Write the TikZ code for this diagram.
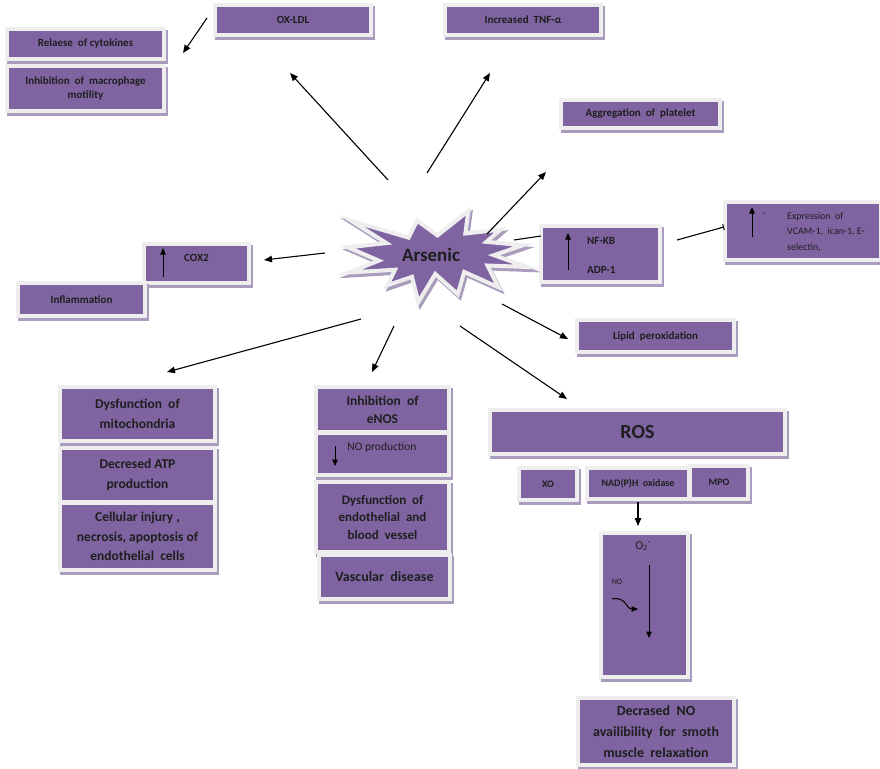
\documentclass[tikz,border=0pt]{standalone}
\usepackage{fontspec}
\setmainfont{Carlito}
\usetikzlibrary{arrows.meta,backgrounds,calc}
\definecolor{boxp}{HTML}{8064A2}
\definecolor{framec}{HTML}{EEEEEE}
\definecolor{shadc}{HTML}{A99CBD}
\definecolor{txtc}{HTML}{1E1E1E}
\newcommand\starpts{(1080,580) -- (1452,0) -- (1416,533) -- (1838,446) -- (1670,732) -- (2110,814) -- (1761,1048) -- (2160,1329) -- (1684,1294) -- (1815,1810) -- (1402,1446) -- (1325,1974) -- (1053,1494) -- (849,2160) -- (772,1563) -- (476,1762) -- (567,1394) -- (14,1459) -- (372,1178) -- (0,862) -- (463,762) -- (37,230) -- (731,632) -- (835,230) -- cycle}
\newcommand\dsp{\ \ }
\begin{document}
\begin{tikzpicture}[x=1pt,y=-1pt,
 bx/.style={fill=boxp, draw=framec, line width=4pt, inner sep=0pt, text=txtc, align=center,
   font=\bfseries\fontsize{11}{14}\selectfont,
   preaction={fill=shadc, draw=shadc, line width=4pt, transform canvas={xshift=2pt,yshift=-3pt}}},
 bigt/.style={font=\bfseries\fontsize{13.5}{19.5}\selectfont},
 lbl/.style={inner sep=0pt, text=txtc},
 arr/.style={-{Triangle[length=8pt,width=6.5pt]}, line width=1.1pt},
 iarr/.style={-{Triangle[length=6.5pt,width=5.5pt]}, line width=1pt},
 conn/.style={line width=0.8pt},
]
\fill[white] (0,0) rectangle (880,768);
\useasboundingbox (0,0) rectangle (880,768);

% star
\begin{scope}[shift={(350,214)}, xscale=0.08287, yscale=0.04213]
  \path[fill=shadc, draw=shadc, line width=4pt] \starpts;
\end{scope}
\begin{scope}[shift={(348,211)}, xscale=0.08287, yscale=0.04213]
  \path[fill=boxp, draw=framec, line width=4pt] \starpts;
\end{scope}
\node[lbl, font=\bfseries\fontsize{19}{22}\selectfont] (ars) at (431,255) {Arsenic};

% top boxes
\node[bx, minimum width=156pt, minimum height=30pt] (oxldl) at (293,20) {OX-LDL};
\node[bx, minimum width=157pt, minimum height=30pt] (cyto) at (85.5,44) {Relaese\dsp of cytokines};
\node[bx, minimum width=157pt, minimum height=45pt] (macro) at (85.5,88.5) {Inhibition\dsp of\dsp macrophage\\motility};
\node[bx, minimum width=156pt, minimum height=30pt] (tnf) at (523,20) {Increased\dsp TNF-α};
\node[bx, minimum width=159pt, minimum height=28pt] (aggr) at (640.5,114) {Aggregation\dsp of\dsp platelet};

% middle
\node[bx, minimum width=105pt, minimum height=39pt] (cox) at (196.5,263.5) {};
\node[bx, minimum width=127pt, minimum height=33pt] (infl) at (81.5,299.5) {Inflammation};
\node[bx, minimum width=119pt, minimum height=56pt] (nfkb) at (600.5,254) {};
\node[bx, minimum width=156pt, minimum height=58pt] (expr) at (803,231) {};
\node[bx, minimum width=157pt, minimum height=32pt] (lipid) at (655.5,336) {Lipid\dsp peroxidation};

% left stack
\node[bx, bigt, minimum width=155pt, minimum height=54pt] (mito) at (137.5,414) {Dysfunction\dsp of\\mitochondria};
\node[bx, bigt, minimum width=155pt, minimum height=54pt] (atp) at (137.5,475) {Decresed ATP\\production};
\node[bx, bigt, minimum width=155pt, minimum height=67pt] (cell) at (137.5,536.5) {Cellular injury ,\\necrosis, apoptosis of\\endothelial\dsp cells};

% middle stack
\node[bx, font=\bfseries\fontsize{13.5}{18}\selectfont, minimum width=133pt, minimum height=45pt] (enos) at (382.5,409.5) {Inhibition\dsp of\\eNOS};
\node[bx, minimum width=133pt, minimum height=42pt] (noprod) at (382.5,454) {};
\node[bx, font=\bfseries\fontsize{13}{17.5}\selectfont, minimum width=133pt, minimum height=70pt] (endo) at (382.5,517) {Dysfunction\dsp of\\endothelial\dsp and\\blood\dsp vessel};
\node[bx, font=\bfseries\fontsize{14}{17}\selectfont, minimum width=131pt, minimum height=44pt] (vasc) at (384.5,577) {Vascular\dsp disease};

% ROS
\node[bx, font=\bfseries\fontsize{20}{24}\selectfont, minimum width=295pt, minimum height=44pt] (ros) at (637.5,432) {ROS};
\node[bx, font=\bfseries\fontsize{10}{12}\selectfont, minimum width=58pt, minimum height=32pt] (xo) at (548,484) {XO};
\node[bx, font=\bfseries\fontsize{10}{12}\selectfont, minimum width=102pt, minimum height=31pt] (nadph) at (638,483.5) {NAD(P)H\dsp oxidase};
\node[bx, font=\bfseries\fontsize{10}{12}\selectfont, minimum width=58pt, minimum height=33pt] (mpo) at (719,482.5) {MPO};
\node[bx, minimum width=87pt, minimum height=144pt] (o2) at (644.5,605) {};
\node[bx, font=\bfseries\fontsize{14}{21}\selectfont, minimum width=156pt, minimum height=67pt] (decno) at (656,731.5) {Decrased\dsp NO\\availibility\dsp for\dsp smoth\\muscle\dsp relaxation};

% connectors ROS -> enzymes (behind)
\begin{pgfonlayer}{background}
\draw[conn] (xo.north |- ros.south) -- (xo.north);
\draw[conn] (nadph.north |- ros.south) -- (nadph.north);
\draw[conn] ($(mpo.north)+(-3,0)$ |- ros.south) -- ($(mpo.north)+(-3,0)$);
\end{pgfonlayer}

% inner labels
\node[lbl, font=\bfseries\fontsize{11}{13}\selectfont, anchor=west] (coxt) at (184,258) {COX2};
\node[lbl, font=\bfseries\fontsize{11}{13}\selectfont, anchor=west] (nfkbt) at (587,241) {NF-KB};
\node[lbl, font=\bfseries\fontsize{11}{13}\selectfont, anchor=west] (adpt) at (587,270) {ADP-1};
\node[lbl, font=\fontsize{10}{15.5}\selectfont, anchor=west, align=left] (exprt) at (787,232) {Expression\dsp of\\VCAM-1,\dsp ican-1, E-\\selectin,};
\node[lbl, font=\fontsize{10}{12}\selectfont] (dash) at (764,215) {-};
\node[lbl, font=\fontsize{11.5}{14}\selectfont] (noprodt) at (382,447) {NO production};
\node[lbl, font=\fontsize{12}{14}\selectfont] (o2t) at (643,546) {O\textsubscript{2}\textsuperscript{-}};
\node[lbl, font=\fontsize{8}{10}\selectfont] (not) at (617,582) {NO};

% coordinates of arrow ends
\coordinate (a1s) at (207,18);  \coordinate (a1e) at (183,53);
\coordinate (a2s) at (388,180); \coordinate (a2e) at (290,73);
\coordinate (a3s) at (427,173); \coordinate (a3e) at (490,73);
\coordinate (a4s) at (487,234); \coordinate (a4e) at (546,172);
\coordinate (a5s) at (514,240); \coordinate (a5e) at (541,236);
\coordinate (a6s) at (677,240); \coordinate (a6e) at (724,227);
\coordinate (a7s) at (325,253); \coordinate (a7e) at (264,260);
\coordinate (a8s) at (502,304); \coordinate (a8e) at (568,339);
\coordinate (a9s) at (460,326); \coordinate (a9e) at (567,399);
\coordinate (a10s) at (394,326); \coordinate (a10e) at (372,372);
\coordinate (a11s) at (361,319); \coordinate (a11e) at (167,372);

\draw[arr] (a1s) -- (a1e);
\draw[arr] (a2s) -- (a2e);
\draw[arr] (a3s) -- (a3e);
\draw[arr] (a4s) -- (a4e);
\draw[line width=1.1pt] (a5s) -- (a5e);
\draw[line width=1.1pt, -{Bar[width=6pt,line width=1pt]}] (a6s) -- (a6e);
\draw[arr] (a7s) -- (a7e);
\draw[arr] (a8s) -- (a8e);
\draw[arr] (a9s) -- (a9e);
\draw[arr] (a10s) -- (a10e);
\draw[arr] (a11s) -- (a11e);

% nadph -> o2
\coordinate (n1) at (638,502); \coordinate (n2) at (638,526);
\draw[arr] (n1) -- (n2);

% inner arrows
\coordinate (c1) at (163,277); \coordinate (c2) at (163,248);
\draw[iarr] (c1) -- (c2);
\coordinate (k1) at (568,270); \coordinate (k2) at (568,233);
\draw[iarr] (k1) -- (k2);
\coordinate (e1) at (752,237); \coordinate (e2) at (752,207);
\draw[iarr] (e1) -- (e2);
\coordinate (p1) at (335,446); \coordinate (p2) at (335,466);
\draw[iarr] (p1) -- (p2);
\coordinate (o1) at (649,565); \coordinate (o2e) at (649,638);
\draw[iarr] (o1) -- (o2e);
\coordinate (q1) at (612,599); \coordinate (q2) at (638,609);
\draw[iarr] (q1) .. controls (626,596) and (626,609) .. (q2);
\end{tikzpicture}
\end{document}
